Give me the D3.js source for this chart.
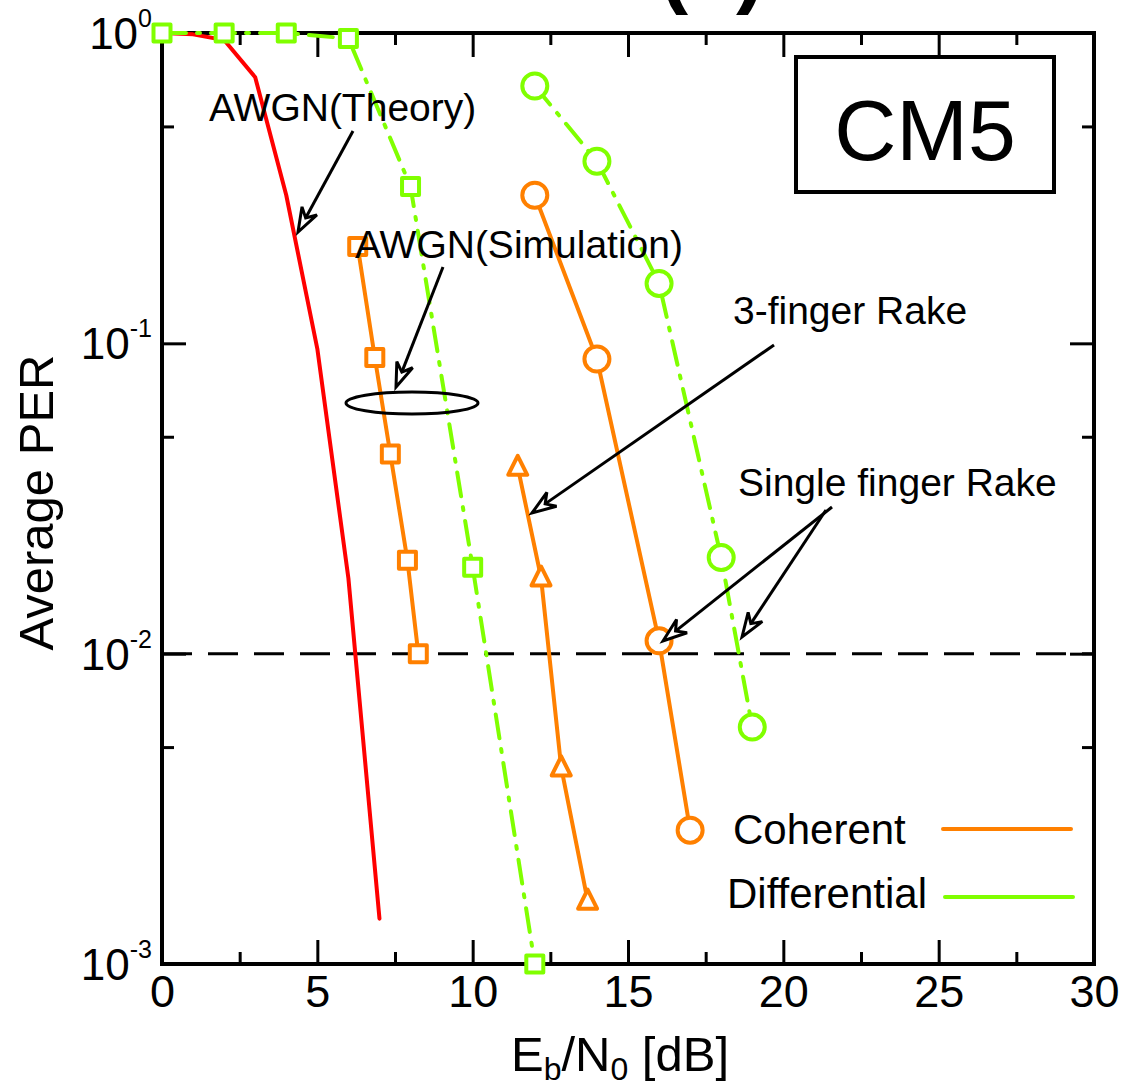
<!DOCTYPE html>
<html>
<head>
<meta charset="utf-8">
<script src="https://cdn.jsdelivr.net/npm/d3@7"></script>
<style>
  html, body { margin: 0; padding: 0; background: #fff; }
  svg { display: block; font-family: "Liberation Sans", Arial, sans-serif; }
</style>
</head>
<body>
<svg id="chart" width="1136" height="1082"></svg>
<script>
// ---- Data: packet error rate vs Eb/N0 (dB), channel model CM5 ----
const awgnTheoryX = [0, 1, 2, 3, 4, 5, 6, 7];
const awgnTheoryY = [1.0, 0.99, 0.95, 0.72, 0.30, 0.096, 0.0175, 0.0014];

const cohAwgnX = [6.3, 6.85, 7.35, 7.9, 8.25];
const cohAwgnY = [0.205, 0.090, 0.044, 0.020, 0.010];

const diffAwgnX = [0, 2, 4, 6, 8, 10, 12];
const diffAwgnY = [1.0, 1.0, 1.0, 0.96, 0.32, 0.019, 0.001];

const coh3FingerX = [11.45, 12.2, 12.85, 13.7];
const coh3FingerY = [0.040, 0.0176, 0.0043, 0.0016];

const coh1FingerX = [12, 14, 16, 17];
const coh1FingerY = [0.30, 0.089, 0.011, 0.0027];

const diff1FingerX = [12, 14, 16, 18, 19];
const diff1FingerY = [0.675, 0.386, 0.156, 0.0204, 0.0058];

const xMajorTicks = [0, 5, 10, 15, 20, 25, 30];
const xMinorTicks = [2.5, 7.5, 12.5, 17.5, 22.5, 27.5];
const yMajorTicks = [1, 0.1, 0.01, 0.001];
const yTickExponents = ["0", "-1", "-2", "-3"];
const yMinorTicks = [0.5, 0.05, 0.005];
const targetPER = 0.01;

// ---- Layout ----
const svg = d3.select("#chart");
const L = 162, R = 1094, T = 33, B = 964;
const ORANGE = "#ff8000", GREEN = "#80ff00", RED = "#ff0000";

const x = d3.scaleLinear().domain([0, 30]).range([L, R]);
const y = d3.scaleLog().domain([0.001, 1]).range([B, T]);

// panel title (sits above the frame, mostly beyond the top edge)
svg.append("text").attr("x", 712).attr("y", -3)
  .attr("text-anchor", "middle").attr("font-size", 86).attr("font-weight", "bold")
  .text("(c)");

// ---- Axes (ticks point inward on all four sides) ----
function styleAxis(g) {
  g.select(".domain").remove();
  g.selectAll(".tick line").attr("stroke", "#000").attr("stroke-width", 3);
}
svg.append("g").attr("transform", `translate(0,${B})`)
  .call(d3.axisBottom(x).tickValues(xMajorTicks).tickSize(-24).tickPadding(11).tickFormat(d3.format("d")))
  .call(styleAxis)
  .call(g => g.selectAll("text").attr("font-size", 45).attr("fill", "#000")
    .attr("font-family", "Liberation Sans, Arial, sans-serif"));
svg.append("g").attr("transform", `translate(0,${B})`)
  .call(d3.axisBottom(x).tickValues(xMinorTicks).tickSize(-12).tickFormat(""))
  .call(styleAxis);
svg.append("g").attr("transform", `translate(0,${T})`)
  .call(d3.axisTop(x).tickValues(xMajorTicks).tickSize(-24).tickFormat(""))
  .call(styleAxis);
svg.append("g").attr("transform", `translate(0,${T})`)
  .call(d3.axisTop(x).tickValues(xMinorTicks).tickSize(-12).tickFormat(""))
  .call(styleAxis);
svg.append("g").attr("transform", `translate(${L},0)`)
  .call(d3.axisLeft(y).tickValues(yMajorTicks).tickSize(-24).tickFormat(""))
  .call(styleAxis);
svg.append("g").attr("transform", `translate(${L},0)`)
  .call(d3.axisLeft(y).tickValues(yMinorTicks).tickSize(-12).tickFormat(""))
  .call(styleAxis);
svg.append("g").attr("transform", `translate(${R},0)`)
  .call(d3.axisRight(y).tickValues(yMajorTicks).tickSize(-24).tickFormat(""))
  .call(styleAxis);
svg.append("g").attr("transform", `translate(${R},0)`)
  .call(d3.axisRight(y).tickValues(yMinorTicks).tickSize(-12).tickFormat(""))
  .call(styleAxis);

// y tick labels written as powers of ten
const yLab = svg.append("g").selectAll("text").data(yMajorTicks).join("text")
  .attr("x", 152).attr("y", d => y(d) + 16)
  .attr("text-anchor", "end").attr("font-size", 44);
yLab.append("tspan").text("10");
yLab.append("tspan").attr("font-size", 25).attr("dy", -22)
  .text((d, i) => yTickExponents[i]);

// frame
svg.append("rect").attr("x", L).attr("y", T).attr("width", R - L).attr("height", B - T)
  .attr("fill", "none").attr("stroke", "#000").attr("stroke-width", 4);

// axis titles
svg.append("text").attr("transform", `translate(53,${(T + B) / 2 + 4}) rotate(-90)`)
  .attr("text-anchor", "middle").attr("font-size", 49).text("Average PER");
const xt = svg.append("text").attr("x", (L + R) / 2 - 8).attr("y", 1071)
  .attr("text-anchor", "middle").attr("font-size", 49);
xt.append("tspan").text("E");
xt.append("tspan").attr("font-size", 32).attr("dy", 9).text("b");
xt.append("tspan").attr("dy", -9).text("/N");
xt.append("tspan").attr("font-size", 32).attr("dy", 9).text("0");
xt.append("tspan").attr("dy", -9).text(" [dB]");

// reference level PER = 1e-2
svg.append("line").attr("x1", L).attr("x2", R).attr("y1", y(targetPER)).attr("y2", y(targetPER))
  .attr("stroke", "#000").attr("stroke-width", 3).attr("stroke-dasharray", "30,16");

// ---- Series ----
const plot = svg.append("g");
function zip(xs, ys) { return xs.map((v, i) => [v, ys[i]]); }
const line = d3.line().x(d => x(d[0])).y(d => y(d[1]));
const DASHDOT = "24,11,3,11";

function series(xs, ys, color, dash, marker) {
  const pts = zip(xs, ys);
  plot.append("path").attr("d", line(pts)).attr("fill", "none")
    .attr("stroke", color).attr("stroke-width", 4)
    .attr("stroke-linecap", "round").attr("stroke-linejoin", "round")
    .attr("stroke-dasharray", dash);
  if (!marker) return;
  const g = plot.append("g");
  if (marker === "square") {
    g.selectAll("rect").data(pts).join("rect")
      .attr("x", d => x(d[0]) - 8.5).attr("y", d => y(d[1]) - 8.5)
      .attr("width", 17).attr("height", 17);
  } else if (marker === "circle") {
    g.selectAll("circle").data(pts).join("circle")
      .attr("cx", d => x(d[0])).attr("cy", d => y(d[1])).attr("r", 12.5);
  } else if (marker === "triangle") {
    g.selectAll("path").data(pts).join("path")
      .attr("d", d => { const cx = x(d[0]), cy = y(d[1]);
        return `M${cx},${cy - 11}L${cx + 9.5},${cy + 8}L${cx - 9.5},${cy + 8}Z`; });
  }
  g.selectAll("*").attr("fill", "#fff").attr("stroke", color).attr("stroke-width", 4)
    .attr("stroke-linejoin", "round");
}

series(awgnTheoryX, awgnTheoryY, RED, null, null);
series(diffAwgnX, diffAwgnY, GREEN, DASHDOT, "square");
series(cohAwgnX, cohAwgnY, ORANGE, null, "square");
series(diff1FingerX, diff1FingerY, GREEN, DASHDOT, "circle");
series(coh1FingerX, coh1FingerY, ORANGE, null, "circle");
series(coh3FingerX, coh3FingerY, ORANGE, null, "triangle");

// ---- Annotations ----
const ann = svg.append("g");
function arrow(x1, y1, x2, y2) {
  const a = Math.atan2(y2 - y1, x2 - x1), len = 24, hw = 8.5, notch = 16;
  const ux = Math.cos(a), uy = Math.sin(a), px = -uy, py = ux;
  const bx = x2 - ux * len, by = y2 - uy * len;
  const nx = x2 - ux * notch, ny = y2 - uy * notch;
  ann.append("line").attr("x1", x1).attr("y1", y1).attr("x2", nx).attr("y2", ny)
    .attr("stroke", "#000").attr("stroke-width", 3);
  ann.append("path")
    .attr("d", `M${x2},${y2}L${bx + px * hw},${by + py * hw}L${nx},${ny}L${bx - px * hw},${by - py * hw}Z`)
    .attr("fill", "#fff").attr("stroke", "#000").attr("stroke-width", 3).attr("stroke-linejoin", "miter");
}
function label(tx, ty, s, size) {
  ann.append("text").attr("x", tx).attr("y", ty).attr("font-size", size || 39).text(s);
}

label(209, 121, "AWGN(Theory)");
arrow(353, 131, 298, 232);

label(355, 258, "AWGN(Simulation)");
arrow(443, 267, 396, 387);
ann.append("ellipse").attr("cx", 412).attr("cy", 403).attr("rx", 66).attr("ry", 11)
  .attr("fill", "none").attr("stroke", "#000").attr("stroke-width", 3);

label(733, 324, "3-finger Rake");
arrow(774, 345, 532, 513);

label(738, 496, "Single finger Rake");
arrow(832, 507, 663, 641);
arrow(826, 510, 742, 637);

// channel model tag
ann.append("rect").attr("x", 796).attr("y", 57).attr("width", 258).attr("height", 135)
  .attr("fill", "#fff").attr("stroke", "#000").attr("stroke-width", 4);
ann.append("text").attr("x", 925).attr("y", 160).attr("text-anchor", "middle")
  .attr("font-size", 86).text("CM5");

// legend: line style per detection scheme
label(733, 844, "Coherent", 42);
ann.append("line").attr("x1", 943).attr("x2", 1071).attr("y1", 829).attr("y2", 829)
  .attr("stroke", ORANGE).attr("stroke-width", 4).attr("stroke-linecap", "round");
label(727, 908, "Differential", 42);
ann.append("line").attr("x1", 945).attr("x2", 1073).attr("y1", 897).attr("y2", 897)
  .attr("stroke", GREEN).attr("stroke-width", 4).attr("stroke-linecap", "round");
</script>
</body>
</html>
